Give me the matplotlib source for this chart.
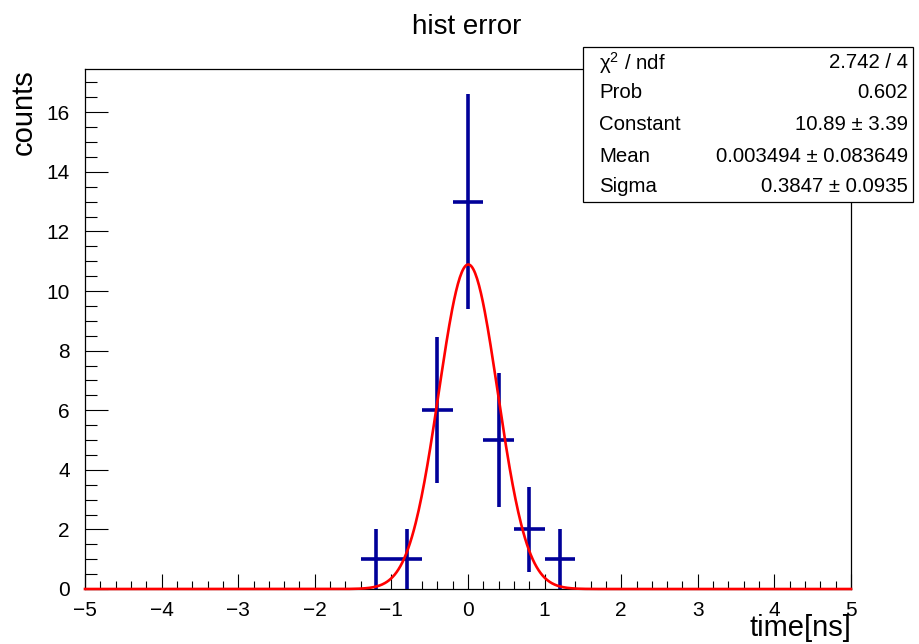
import numpy as np
import matplotlib.pyplot as plt
from matplotlib.ticker import MultipleLocator
from matplotlib.patches import Rectangle

plt.rcParams['font.family'] = ['Liberation Sans', 'DejaVu Sans']
plt.rcParams['mathtext.fontset'] = 'custom'
plt.rcParams['mathtext.rm'] = 'Liberation Sans'
plt.rcParams['mathtext.it'] = 'Liberation Sans:italic'

# histogram contents (non-empty bins only), bin width 0.4
bin_centers = [-1.2, -0.8, -0.4, 0.0, 0.4, 0.8, 1.2]
bin_counts = [1, 1, 6, 13, 5, 2, 1]
bin_width = 0.4

# gaus fit result
fit_const = 10.89
fit_mean = 0.003494
fit_sigma = 0.3847

stat_names = ['\u03c7$^{\\mathrm{2}}$ / ndf', 'Prob', 'Constant', 'Mean', 'Sigma']
stat_values = ['2.742 / 4', '0.602', '10.89 \u00b1 3.39',
               '0.003494 \u00b1 0.083649', '0.3847 \u00b1 0.0935']

W, H = 920, 644
fig = plt.figure(figsize=(W / 100, H / 100), dpi=100)

def px(x, y):
    # pixel coords (top-left origin) to figure fraction
    return x / W, 1 - y / H

ax_l, ax_r, ax_t, ax_b = 85, 851, 69, 589
ax = fig.add_axes([ax_l / W, 1 - ax_b / H, (ax_r - ax_l) / W, (ax_b - ax_t) / H])

blue = '#000099'
x = np.array(bin_centers)
y = np.array(bin_counts, dtype=float)
ax.errorbar(x, y, xerr=bin_width / 2, yerr=np.sqrt(y), fmt='none',
            ecolor=blue, elinewidth=2.6, capsize=0, zorder=3)

xs = np.linspace(-5, 5, 800)
ys = fit_const * np.exp(-0.5 * ((xs - fit_mean) / fit_sigma) ** 2)
ax.plot(xs, ys, color='red', lw=1.9, zorder=4, clip_on=False)

ax.set_xlim(-5, 5)
ax.set_ylim(0, 17.45)

ax.xaxis.set_major_locator(MultipleLocator(1))
ax.xaxis.set_minor_locator(MultipleLocator(0.2))
ax.yaxis.set_major_locator(MultipleLocator(2))
ax.yaxis.set_minor_locator(MultipleLocator(0.5))

for s in ax.spines.values():
    s.set_linewidth(0.9)

ax.tick_params(axis='both', which='both', direction='in', top=False, right=False,
               width=0.8, labelsize=15)
ax.tick_params(axis='x', which='major', length=10.8, pad=9)
ax.tick_params(axis='x', which='minor', length=5.8)
ax.tick_params(axis='y', which='major', length=16.6, pad=11)
ax.tick_params(axis='y', which='minor', length=8.6)

# axis titles
fig.text(*px(ax_r, 628), 'time[ns]', ha='right', va='center', fontsize=21)
fig.text(*px(24, ax_t), 'counts', ha='center', va='top', rotation=90, fontsize=21)
fig.text(*px(467, 27), 'hist error', ha='center', va='center', fontsize=20)

# stats box
bx0, by0, bx1, by1 = 583, 47, 913, 202
l, b = px(bx0, by1)
fig.patches.append(Rectangle((l, b), (bx1 - bx0) / W, (by1 - by0) / H,
                             transform=fig.transFigure, facecolor='white',
                             edgecolor='black', lw=0.9, zorder=10))
row_y = [63, 93, 125, 157, 187]
for name, val, ry in zip(stat_names, stat_values, row_y):
    t1 = fig.text(*px(599, ry), name, ha='left', va='center', fontsize=14.7)
    t2 = fig.text(*px(908, ry), val, ha='right', va='center', fontsize=14.7)
    t1.set_zorder(11)
    t2.set_zorder(11)

fig.savefig('out.png', dpi=100)
